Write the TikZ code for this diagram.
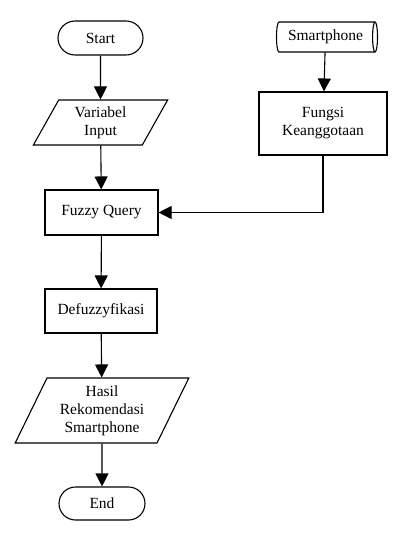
\documentclass[tikz,border=0pt]{standalone}
\usepackage{fontspec}
\setmainfont{Liberation Serif}
\usetikzlibrary{shapes.geometric,shapes.misc,arrows.meta}
\begin{document}
\begin{tikzpicture}[x=1pt,y=-1pt,
  every node/.style={font=\fontsize{15.5}{18}\selectfont, align=center, draw=black, line width=1.1pt, fill=white, inner sep=0pt},
  term/.style={rounded rectangle, minimum width=85, minimum height=34},
  proc/.style={rectangle, minimum width=113, minimum height=45},
  io/.style={trapezium, trapezium stretches=true, trapezium left angle=64, trapezium right angle=116},
  store/.style={cylinder, shape aspect=0.35, minimum height=101, minimum width=30},
  conn/.style={line width=1.1pt, -{Triangle[length=13pt,width=13pt]}}]
\useasboundingbox (0,0) rectangle (407,535);
\node[term] (start) at (100.5,38) {Start};
\node[io, minimum width=135, minimum height=45] (var) at (100.5,122.5) {Variabel\\Input};
\node[store] (smart) at (325.5,37) {Smartphone};
\node[proc, minimum width=128, minimum height=63] (fungsi) at (323,123.5) {Fungsi\\Keanggotaan};
\node[proc] (fq) at (101.5,212.5) {Fuzzy Query};
\node[proc, minimum width=112, minimum height=44] (defuz) at (101,311) {Defuzzyfikasi};
\node[io, minimum width=174, minimum height=65] (hasil) at (102,410.5) {Hasil\\Rekomendasi\\Smartphone};
\node[term, minimum width=86, minimum height=33] (end) at (102,503.5) {End};
\draw[conn] (start) -- (var);
\draw[conn] (var) -- (fq);
\draw[conn] (smart) -- (fungsi);
\draw[conn] (fungsi.south) |- (fq.east);
\draw[conn] (fq) -- (defuz);
\draw[conn] (defuz) -- (hasil);
\draw[conn] (hasil) -- (end);
\end{tikzpicture}
\end{document}
